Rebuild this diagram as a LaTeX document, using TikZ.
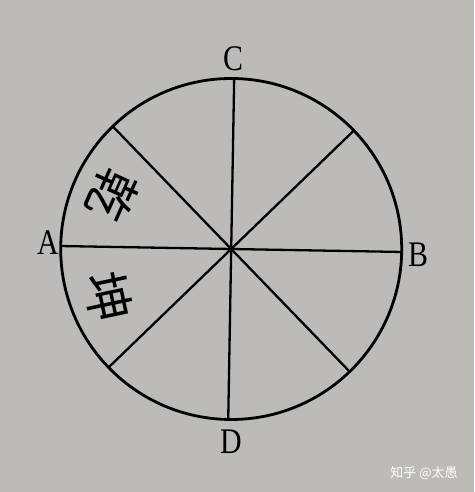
\documentclass[tikz,border=0pt]{standalone}
\usepackage{fontspec}
\usetikzlibrary{calc}
\newfontfamily\labfont[FakeStretch=0.83]{Liberation Serif}
\newfontfamily\cjk{Noto Sans CJK SC}
\definecolor{paper}{RGB}{188,187,183}
\begin{document}
\begin{tikzpicture}[x=1pt,y=1pt,
  spoke/.style={line width=2.3pt, black},
  rim/.style={line width=2.8pt, black},
  lab/.style={font=\labfont\fontsize{36}{36}\selectfont, inner sep=0pt, text=black},
  gua/.style={font=\cjk\fontsize{50}{50}\selectfont, inner sep=0pt, text=black},
  mark/.style={}]
\fill[paper] (0,0) rectangle (474,492);
\useasboundingbox (0,0) rectangle (474,492);
\coordinate (O) at (231.2,243);
\foreach \i in {0,...,7} {\coordinate (P\i) at ($(O)+({\i*45-1}:170.5)$);}
\draw[rim] (O) circle (170.5);
\draw[spoke] (P0) -- (P4);
\draw[spoke] (P1) -- (P5);
\draw[spoke] (P2) -- (P6);
\draw[spoke] (P3) -- (P7);
\node[lab] (C) at (233,433) {C};
\node[lab] (D) at (231,50) {D};
\node[lab] (A) at (48,249) {A};
\node[lab] (B) at (418,237) {B};
\node[gua, rotate=-114] (qian) at (113,297) {乾};
\node[gua, rotate=-78] (kun) at (108,195) {坤};
\node[font=\cjk\fontsize{13}{13}\selectfont, text=white, inner sep=0pt] (wm) at (424,19) {知乎 @太愚};
\end{tikzpicture}
\end{document}
